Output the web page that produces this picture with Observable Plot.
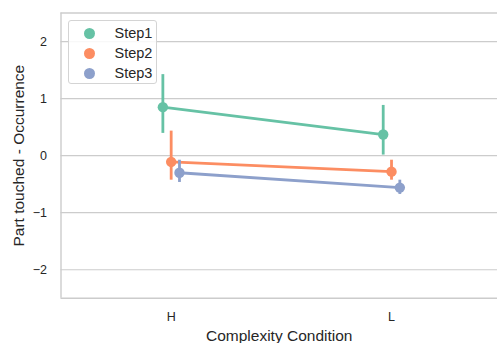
<!DOCTYPE html>
<html><head><meta charset="utf-8">
<script src="https://cdn.jsdelivr.net/npm/d3@7"></script>
<script src="https://cdn.jsdelivr.net/npm/@observablehq/plot@0.6"></script>
<style>
body{margin:0;background:#fff;font-family:"Liberation Sans",Arial,sans-serif;}
#wrap{position:relative;width:497px;height:343px;overflow:hidden;}
#legend{position:absolute;left:67.5px;top:20px;width:89px;height:64px;box-sizing:border-box;border:1px solid #d4d4d4;border-radius:3px;background:rgba(255,255,255,0.85);}
#legend .row{position:absolute;left:0;height:20px;display:flex;align-items:center;}
#legend .sw{position:absolute;left:15px;width:11px;height:11px;border-radius:50%;}
#legend .lab{position:absolute;left:46px;font-size:14.5px;color:#262626;white-space:nowrap;line-height:20px;}
</style></head>
<body><div id="wrap"><div id="chart"></div><div id="legend"></div></div>
<script>
const categories = ["H", "L"];
const steps = ["Step1", "Step2", "Step3"];
const colors = ["#66c2a5", "#fc8d62", "#8da0cb"];
const step1Mean = [0.85, 0.37];
const step1Low  = [0.39, 0.01];
const step1High = [1.42, 0.88];
const step2Mean = [-0.11, -0.28];
const step2Low  = [-0.43, -0.43];
const step2High = [0.43, -0.08];
const step3Mean = [-0.30, -0.56];
const step3Low  = [-0.47, -0.68];
const step3High = [-0.08, -0.43];
const yTicks = [-2, -1, 0, 1, 2];
const xLabel = "Complexity Condition";
const yLabel = "Part touched - Occurrence";

const series = [
  {mean: step1Mean, low: step1Low, high: step1High},
  {mean: step2Mean, low: step2Low, high: step2High},
  {mean: step3Mean, low: step3Low, high: step3High}
];
const rows = [];
steps.forEach((s, si) => categories.forEach((c, ci) => rows.push({
  step: s, cat: c, mean: series[si].mean[ci], low: series[si].low[ci], high: series[si].high[ci]
})));
const dodge = 0.0377;
const xpos = d => categories.indexOf(d.cat) + (steps.indexOf(d.step) - 1) * dodge;
const fmt = d => d < 0 ? "\u2212" + Math.abs(d) : String(d);

const plot = Plot.plot({
  width: 497, height: 343,
  marginLeft: 60.5, marginRight: 0, marginTop: 12.5, marginBottom: 45.2,
  style: {fontFamily: "'Liberation Sans', Arial, sans-serif", color: "#262626", background: "#fff"},
  x: {type: "linear", domain: [-0.5, 1.481]},
  y: {domain: [-2.5, 2.5]},
  color: {domain: steps, range: colors},
  marks: [
    Plot.gridY(yTicks, {stroke: "#cccccc", strokeOpacity: 1, strokeWidth: 1.2}),
    Plot.ruleX([-0.5], {stroke: "#cccccc", strokeWidth: 1.4}),
    Plot.ruleY([2.5, -2.5], {stroke: "#cccccc", strokeWidth: 1.4}),
    Plot.axisY(yTicks, {tickSize: 0, tickPadding: 14, tickFormat: fmt, fontSize: 12.5, label: yLabel, labelAnchor: "center", labelArrow: "none", labelOffset: 48}),
    Plot.axisX([0, 1], {tickSize: 0, tickPadding: 13.5, tickFormat: i => categories[i], fontSize: 12.5, label: xLabel, labelAnchor: "center", labelArrow: "none", labelOffset: 42.5}),
    Plot.line(rows, {x: xpos, y: "mean", z: "step", stroke: "step", strokeWidth: 2.8}),
    Plot.ruleX(rows, {x: xpos, y1: "low", y2: "high", stroke: "step", strokeWidth: 2.8}),
    Plot.dot(rows, {x: xpos, y: "mean", fill: "step", r: 5.2})
  ]
});
document.getElementById("chart").appendChild(plot);
plot.querySelectorAll("g[aria-label='y-axis label'] text, g[aria-label='x-axis label'] text").forEach(t => t.setAttribute("font-size", "15.5px"));

const leg = document.getElementById("legend");
steps.forEach((s, i) => {
  const r = document.createElement("div");
  r.className = "row";
  r.style.top = (2 + i * 20) + "px";
  r.innerHTML = `<span class="sw" style="background:${colors[i]}"></span><span class="lab">${s}</span>`;
  leg.appendChild(r);
});
</script></body></html>
